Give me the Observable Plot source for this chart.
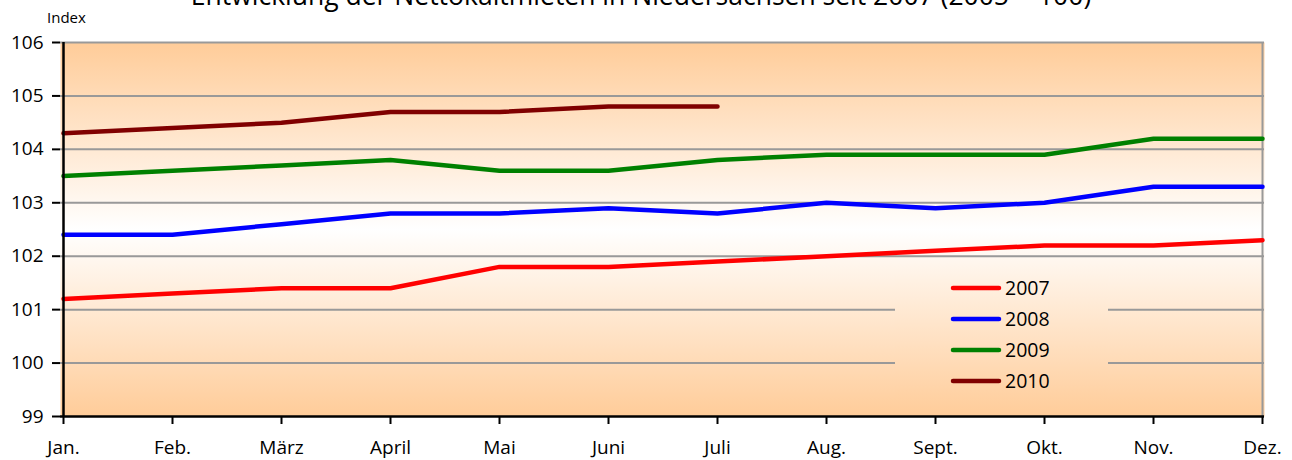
<!DOCTYPE html>
<html>
<head>
<meta charset="utf-8">
<script src="https://cdn.jsdelivr.net/npm/d3@7"></script>
<script src="https://cdn.jsdelivr.net/npm/@observablehq/plot@0.6"></script>
<style>
  body { margin: 0; background: #fff; font-family: "Open Sans", sans-serif; }
  #wrap { position: relative; width: 1292px; height: 460px; overflow: hidden; }
  #title { position: absolute; left: -5px; width: 1292px; top: -20px; text-align: center; font-size: 26.5px; line-height: 30px; color: #000; white-space: nowrap; }
  #ylabel { position: absolute; left: 47px; top: 7px; font-size: 15px; line-height: 20px; color: #000; }
  svg { display: block; }
</style>
</head>
<body>
<div id="wrap">
  <div id="chart"></div>
  <div id="title">Entwicklung der Nettokaltmieten in Niedersachsen seit 2007 (2005 = 100)</div>
  <div id="ylabel">Index</div>
</div>
<script>
const months = ["Jan.", "Feb.", "März", "April", "Mai", "Juni", "Juli", "Aug.", "Sept.", "Okt.", "Nov.", "Dez."];
const years = ["2007", "2008", "2009", "2010"];
const colors = ["#FF0000", "#0000FF", "#008000", "#800000"];
const yTicks = [99, 100, 101, 102, 103, 104, 105, 106];
const gridValues = [100, 101, 102, 103, 104, 105];
const v2007 = [101.2, 101.3, 101.4, 101.4, 101.8, 101.8, 101.9, 102.0, 102.1, 102.2, 102.2, 102.3];
const v2008 = [102.4, 102.4, 102.6, 102.8, 102.8, 102.9, 102.8, 103.0, 102.9, 103.0, 103.3, 103.3];
const v2009 = [103.5, 103.6, 103.7, 103.8, 103.6, 103.6, 103.8, 103.9, 103.9, 103.9, 104.2, 104.2];
const v2010 = [104.3, 104.4, 104.5, 104.7, 104.7, 104.8, 104.8];

const series = [v2007, v2008, v2009, v2010];
const data = [];
series.forEach((vals, i) => vals.forEach((v, j) => data.push({ month: months[j], year: years[i], value: v })));

const chart = Plot.plot({
  width: 1292,
  height: 460,
  marginLeft: 60,
  marginRight: 28,
  marginTop: 42,
  marginBottom: 44,
  style: { fontFamily: "'Open Sans', sans-serif", fontSize: "19px", color: "#000", background: "transparent", overflow: "visible" },
  x: { type: "point", domain: months, padding: 0, label: null },
  y: { domain: [99, 106], label: null },
  color: { domain: years, range: colors },
  marks: [
    Plot.frame({ fill: "url(#bgGrad)", stroke: "none" }),
    Plot.ruleY(gridValues, { stroke: "#999999", strokeWidth: 2 }),
    Plot.ruleY([106], { stroke: "#999999", strokeWidth: 2 }),
    Plot.ruleX([months[months.length - 1]], { stroke: "#999999", strokeWidth: 2 }),
    Plot.line(data, { x: "month", y: "value", z: "year", stroke: "year", strokeWidth: 4.5, strokeLinejoin: "round", strokeLinecap: "round" }),
    Plot.ruleX([months[0]], { stroke: "#000", strokeWidth: 2.5 }),
    Plot.ruleY([99], { stroke: "#000", strokeWidth: 2.5 }),
    Plot.axisY(yTicks, { tickSize: 8, tickPadding: 9, strokeWidth: 2, stroke: "#000", fill: "#000", tickFormat: d => String(d) }),
    Plot.axisX(months, { tickSize: 8, tickPadding: 16, strokeWidth: 2, stroke: "#000", fill: "#000" })
  ]
});

document.getElementById("chart").appendChild(chart);

const svg = d3.select(chart);
const ys = chart.scale("y");
const yTop = ys.apply(106), yBot = ys.apply(99);

const defs = svg.insert("defs", ":first-child");
const mkGrad = (id, user) => {
  const g = defs.append("linearGradient").attr("id", id).attr("x1", 0).attr("x2", 0);
  if (user) g.attr("gradientUnits", "userSpaceOnUse").attr("y1", yTop).attr("y2", yBot);
  else g.attr("y1", 0).attr("y2", 1);
  [[0, "#FFCC99"], [0.5, "#FFFFFF"], [1, "#FFCC99"]].forEach(([o, c]) => g.append("stop").attr("offset", o).attr("stop-color", c));
};
mkGrad("bgGrad", false);
mkGrad("bgGradUser", true);

// legend
const lg = svg.append("g").attr("text-anchor", "start");
const legX = 895, legW = 213;
const legY0 = 288, legStep = 31;
lg.append("rect").attr("x", legX).attr("y", legY0 - 18).attr("width", legW).attr("height", legStep * 3 + 36).attr("fill", "url(#bgGradUser)");
years.forEach((yr, i) => {
  const yy = legY0 + i * legStep;
  lg.append("line").attr("x1", 953).attr("x2", 999).attr("y1", yy).attr("y2", yy)
    .attr("stroke", colors[i]).attr("stroke-width", 4.5).attr("stroke-linecap", "round");
  lg.append("text").attr("x", 1005).attr("y", yy).attr("dy", "0.36em")
    .attr("font-size", 19.5).attr("fill", "#000").attr("text-anchor", "start").text(yr);
});
</script>
</body>
</html>
